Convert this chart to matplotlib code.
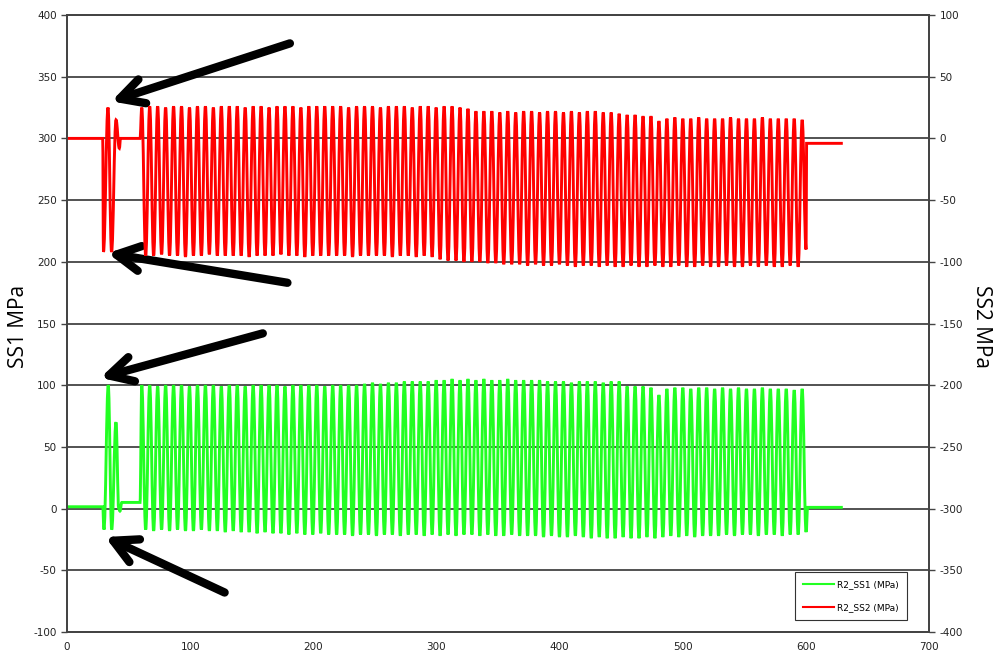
import numpy as np
import matplotlib.pyplot as plt
from matplotlib.lines import Line2D
from matplotlib.path import Path
from matplotlib.patches import PathPatch

plt.rcParams['axes.unicode_minus'] = False

# start-up transient before the steady cycling (time, MPa)
ss1_pre_t = [0, 29.0, 30.0, 33.5, 36.3, 39.8, 42.0, 43.0, 44.5, 59.3]
ss1_pre_v = [1.5, 1.5, -17, 100, -17, 70, 0, -2, 5, 5]
ss2_pre_t = [0, 29.0, 29.6, 33.3, 36.2, 39.8, 42.5, 43.5, 59.3]
ss2_pre_v = [0, 0, -92, 25, -92, 15, -8, 0, 0]

# steady cycling: one peak and one trough per cycle
n_cycles = 84
first_peak, last_peak, half_period = 60.7, 597.0, 3.2

ss1_peaks = [100, 100, 99, 100, 100, 100, 99, 100, 100, 100, 99, 100,
             100, 99, 100, 100, 100, 100, 99, 100, 100, 100, 100, 99,
             100, 100, 100, 100, 101, 102, 101, 102, 102, 103, 103, 103,
             103, 104, 104, 105, 104, 105, 104, 105, 104, 104, 105, 104,
             104, 104, 104, 103, 103, 103, 102, 103, 103, 103, 102, 103,
             103, 99, 99, 99, 98, 92, 97, 98, 98, 97, 98, 98,
             97, 98, 97, 98, 97, 97, 98, 97, 97, 97, 96, 97]
ss1_troughs = [-17, -18, -17, -18, -17, -18, -18, -17, -18, -18, -19, -18,
               -19, -19, -20, -19, -20, -20, -21, -20, -21, -21, -20, -21,
               -21, -21, -22, -21, -21, -22, -21, -21, -22, -21, -21, -22,
               -21, -22, -21, -22, -21, -21, -22, -21, -22, -22, -21, -22,
               -22, -22, -23, -22, -23, -23, -22, -23, -24, -23, -24, -24,
               -23, -24, -24, -23, -24, -23, -22, -23, -22, -23, -22, -22,
               -22, -21, -22, -21, -21, -22, -21, -21, -22, -21, -21, -19]

ss2_peaks = [25, 26, 26, 25, 26, 26, 25, 26, 26, 25, 26, 26,
             26, 25, 26, 26, 25, 26, 26, 26, 25, 26, 26, 26,
             26, 26, 25, 26, 26, 26, 25, 26, 26, 26, 25, 26,
             26, 25, 26, 26, 25, 24, 22, 22, 22, 21, 22, 21,
             22, 22, 21, 22, 22, 21, 22, 21, 22, 22, 21, 21,
             20, 19, 19, 18, 18, 14, 16, 17, 16, 16, 17, 16,
             16, 16, 17, 16, 16, 16, 17, 16, 16, 16, 16, 15]
ss2_troughs = [-95, -95, -94, -95, -95, -96, -95, -95, -94, -95, -95, -95,
               -95, -96, -95, -95, -95, -94, -95, -95, -96, -95, -95, -95,
               -95, -95, -96, -95, -95, -95, -95, -96, -95, -95, -96, -95,
               -96, -98, -99, -99, -100, -100, -100, -101, -101, -102, -102, -102,
               -103, -102, -103, -103, -102, -103, -104, -103, -103, -104, -103, -104,
               -104, -103, -104, -104, -103, -104, -104, -103, -104, -104, -103, -104,
               -104, -103, -104, -104, -103, -104, -103, -104, -104, -103, -104, -90]

# after the test: back to rest
ss1_post_t = [601.5, 630]
ss1_post_v = [1, 1]
ss2_post_t = [600.6, 630]
ss2_post_v = [-4, -4]

peak_t = np.linspace(first_peak, last_peak, n_cycles)
trough_t = peak_t + half_period


def build(pre_t, pre_v, peaks, troughs, post_t, post_v):
    cyc_t = np.column_stack([peak_t, trough_t]).ravel()
    cyc_v = np.column_stack([peaks, troughs]).ravel()
    t = np.concatenate([pre_t, cyc_t, post_t])
    v = np.concatenate([pre_v, cyc_v, post_v])
    return t, v


def smooth_path(t, v, k=0.4):
    # smoothed line: cubic bezier between points, flat tangents at each point
    verts = [(t[0], v[0])]
    codes = [Path.MOVETO]
    for i in range(1, len(t)):
        dt = t[i] - t[i - 1]
        verts += [(t[i - 1] + k * dt, v[i - 1]), (t[i] - k * dt, v[i]), (t[i], v[i])]
        codes += [Path.CURVE4] * 3
    return Path(verts, codes)


t1, v1 = build(ss1_pre_t, ss1_pre_v, ss1_peaks, ss1_troughs, ss1_post_t, ss1_post_v)
t2, v2 = build(ss2_pre_t, ss2_pre_v, ss2_peaks, ss2_troughs, ss2_post_t, ss2_post_v)

green = '#22ff22'
red = '#ff0000'
grid_col = '#444444'

fig = plt.figure(figsize=(9.94, 6.53), dpi=100)
ax1 = fig.add_subplot(111)
fig.subplots_adjust(left=67/994, right=929/994, bottom=21/653, top=638/653)
ax2 = ax1.twinx()

ax1.set_xlim(0, 700)
ax1.set_ylim(-100, 400)
ax2.set_ylim(-400, 100)
ax1.set_xticks(range(0, 701, 100))
ax1.set_yticks(range(-100, 401, 50))
ax2.set_yticks(range(-400, 101, 50))

ax1.yaxis.grid(True, color=grid_col, lw=1.3)
ax1.set_axisbelow(True)

ax1.add_patch(PathPatch(smooth_path(t1, v1), fill=False, edgecolor=green, lw=2.1))
ax2.add_patch(PathPatch(smooth_path(t2, v2), fill=False, edgecolor=red, lw=2.1))

for ax in (ax1, ax2):
    for s in ax.spines.values():
        s.set_color(grid_col)
        s.set_linewidth(1.3)
    ax.tick_params(labelsize=7.5, labelcolor='#222222', color=grid_col, length=4, width=1)
ax1.tick_params(axis='x', length=0, pad=7)

fig.text(18/994, 0.5, 'SS1 MPa', fontsize=15, family='Open Sans', rotation=90,
         ha='center', va='center')
fig.text(981/994, 0.5, 'SS2 MPa', fontsize=15, family='Open Sans', rotation=270,
         ha='center', va='center')

# arrows pointing at the start-up spikes
arrows = [((181, 377), (36, 330)),
          ((179, 183), (33, 207)),
          ((159, 142), (27, 106)),
          ((128, -68), (31, -23))]
for tail, head in arrows:
    ax1.annotate('', xy=head, xytext=tail,
                 arrowprops=dict(arrowstyle='->,head_length=0.85,head_width=0.45',
                                 mutation_scale=20, lw=6, color='black',
                                 shrinkA=0, shrinkB=0))

handles = [Line2D([], [], color=green, lw=1.5), Line2D([], [], color=red, lw=1.5)]
leg = ax2.legend(handles, ['R2_SS1 (MPa)', 'R2_SS2 (MPa)'], loc='lower right',
                 bbox_to_anchor=(0.974, 0.019), borderaxespad=0, fontsize=6.5,
                 fancybox=False, edgecolor='#333333', framealpha=1,
                 handlelength=3.4, handletextpad=0.3, labelspacing=1.6,
                 borderpad=0.9)
leg.get_frame().set_linewidth(0.8)

fig.savefig('out.png', dpi=100)
